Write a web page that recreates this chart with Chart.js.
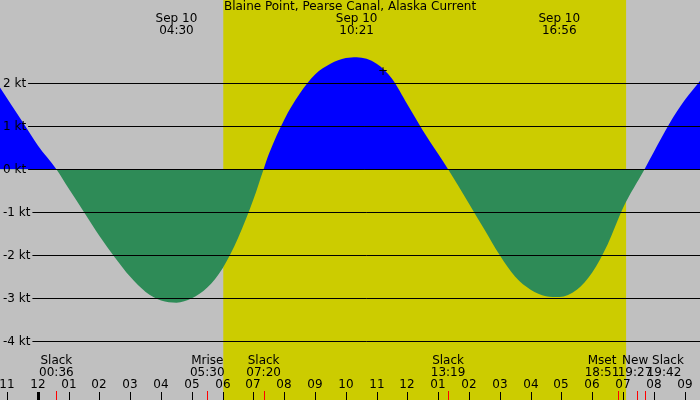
<!DOCTYPE html>
<html><head><meta charset="utf-8">
<script src="https://cdn.jsdelivr.net/npm/chart.js@4"></script>
<style>html,body{margin:0;padding:0;background:#c0c0c0}#w{width:700px;height:400px}</style>
</head><body><div id="w"><canvas id="c"></canvas></div>
<script>
const title = "Blaine Point, Pearse Canal, Alaska Current";
const times = [-1.23,-0.5,0,0.6,1,1.5,2,2.5,3,3.5,4,4.5,5,5.5,6,6.5,7,7.33,7.5,8,8.5,9,9.5,10,10.35,11,11.5,12,12.5,13,13.32,14,14.5,15,15.5,16,16.5,16.93,17.5,18,18.5,19,19.7,20,20.5,21,21.5];
const speeds = [1.9,1.1,0.55,0,-0.45,-1.0,-1.55,-2.05,-2.5,-2.85,-3.05,-3.1,-3.0,-2.75,-2.3,-1.6,-0.7,0,0.35,1.15,1.75,2.2,2.45,2.58,2.6,2.45,2.1,1.5,0.9,0.35,0,-0.8,-1.4,-2.0,-2.5,-2.8,-2.95,-2.97,-2.8,-2.4,-1.75,-0.9,0,0.4,1.05,1.6,2.05];
const yTicks = [2,1,0,-1,-2,-3,-4];
const hourTicks = [-1,0,1,2,3,4,5,6,7,8,9,10,11,12,13,14,15,16,17,18,19,20,21];
const hourLabels = ["11","12","01","02","03","04","05","06","07","08","09","10","11","12","01","02","03","04","05","06","07","08","09"];
const topEvents = [[4.5,"Sep 10","04:30"],[10.35,"Sep 10","10:21"],[16.93,"Sep 10","16:56"]];
const eventTimes = [0.6,5.5,7.33,13.32,18.85,19.45,19.7];
const sunrise = 6.02, sunset = 19.1;

const deco = {
  id:'deco',
  beforeDatasetsDraw(ch){
    const {ctx, scales:{x}} = ch;
    ctx.save();
    ctx.fillStyle='#c0c0c0'; ctx.fillRect(0,0,700,400);
    ctx.fillStyle='#cccc00';
    ctx.fillRect(x.getPixelForValue(sunrise),0,x.getPixelForValue(sunset)-x.getPixelForValue(sunrise),400);
    ctx.restore();
  },
  afterDatasetsDraw(ch){
    const {ctx, scales:{x,y}} = ch;
    ctx.save();
    ctx.font='12px "DejaVu Sans", sans-serif';
    ctx.fillStyle='#000'; ctx.strokeStyle='#000'; ctx.lineWidth=1;
    yTicks.forEach(v=>{
      const py=Math.round(y.getPixelForValue(v))+0.5;
      const lab=(v<0?"-"+(-v):v)+" kt";
      ctx.textAlign='left'; ctx.textBaseline='middle';
      const w=ctx.measureText(lab).width;
      ctx.beginPath(); ctx.moveTo(4+w+1,py); ctx.lineTo(700,py); ctx.stroke();
      ctx.fillText(lab,3,py);
    });
    ctx.textAlign='center'; ctx.textBaseline='middle';
    ctx.fillText(title,350,7);
    topEvents.forEach(e=>{const px=x.getPixelForValue(e[0]);ctx.fillText(e[1],px,19);ctx.fillText(e[2],px,31);});
    ctx.fillText("+",383,72);
    eventTimes.forEach(t=>{
      const px=x.getPixelForValue(t);
      ctx.strokeStyle='#f00'; ctx.beginPath(); ctx.moveTo(Math.round(px)+0.5,391); ctx.lineTo(Math.round(px)+0.5,400); ctx.stroke();
    });
    ctx.fillStyle='#000';
    [[0.6,"Slack","00:36"],[5.5,"Mrise","05:30"],[7.33,"Slack","07:20"],[13.32,"Slack","13:19"]].forEach(e=>{
      const px=x.getPixelForValue(e[0]);ctx.fillText(e[1],px,361);ctx.fillText(e[2],px,373);
    });
    ctx.fillText("Mset",602,361);ctx.fillText("18:51",602,373);
    ctx.fillText("New Slack",653,361);ctx.fillText("19:27",635,373);ctx.fillText("19:42",664,373);
    hourTicks.forEach((h,i)=>{
      const px=Math.round(x.getPixelForValue(h));
      ctx.fillText(hourLabels[i],px,385);
      ctx.fillRect(h===0?px-1:px,392,h===0?3:1,8);
    });
    ctx.restore();
  }
};
new Chart(document.getElementById('c'),{
  type:'line',
  data:{datasets:[{data:times.map((t,i)=>({x:t,y:speeds[i]})),borderWidth:0,pointRadius:0,cubicInterpolationMode:'monotone',
    fill:{target:'origin',above:'#0000ff',below:'#2e8b57'},borderColor:'rgba(0,0,0,0)'}]},
  options:{responsive:true,maintainAspectRatio:false,animation:false,
    layout:{padding:{left:0,right:0,top:0,bottom:50}},
    plugins:{legend:{display:false},tooltip:{enabled:false}},
    scales:{x:{type:'linear',min:-1.23,max:21.5,display:false},
            y:{min:-4.2,max:3.93,display:false}}},
  plugins:[deco]
});
</script></body></html>
